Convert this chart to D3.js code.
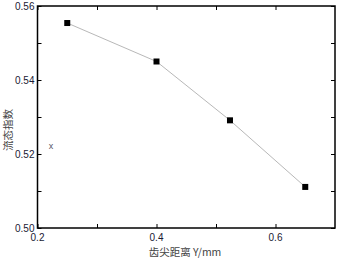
<!DOCTYPE html>
<html>
<head>
<meta charset="utf-8">
<script src="https://cdn.jsdelivr.net/npm/d3@7"></script>
<style>
  body { margin: 0; background: #fff; }
  svg { display: block; }
</style>
</head>
<body>
<script>
// data
var xValues = [0.25, 0.4, 0.5235, 0.65];
var yValues = [0.5554, 0.545, 0.5291, 0.5111];
var xTicks = [0.2, 0.4, 0.6];
var xMinor = [0.3, 0.5];
var yTicks = [0.50, 0.52, 0.54, 0.56];
var yMinor = [0.51, 0.53, 0.55];

var WIDTH = 343, HEIGHT = 259;
var margin = {left: 37.5, top: 6, right: 8, bottom: 31};

var svg = d3.select("body").append("svg")
    .attr("width", WIDTH).attr("height", HEIGHT);

var x = d3.scaleLinear().domain([0.2, 0.7]).range([margin.left, WIDTH - margin.right]);
var y = d3.scaleLinear().domain([0.50, 0.56]).range([HEIGHT - margin.bottom, margin.top]);

var font = "Arial, 'Liberation Sans', sans-serif";

// ticks on all four sides, pointing inward
function ticks(axis, vals, len) {
    return axis.tickValues(vals).tickSizeInner(-len).tickSizeOuter(0).tickFormat("");
}
var bottomY = HEIGHT - margin.bottom, rightX = WIDTH - margin.right;

svg.append("g").attr("transform", "translate(0," + bottomY + ")")
    .call(ticks(d3.axisBottom(x), xTicks.concat(xMinor), 4));
svg.append("g").attr("transform", "translate(0," + margin.top + ")")
    .call(ticks(d3.axisTop(x), xTicks.concat(xMinor), 4));
svg.append("g").attr("transform", "translate(" + margin.left + ",0)")
    .call(ticks(d3.axisLeft(y), yTicks.concat(yMinor), 4));
svg.append("g").attr("transform", "translate(" + rightX + ",0)")
    .call(ticks(d3.axisRight(y), yTicks.concat(yMinor), 4));
svg.selectAll(".domain").remove();
svg.selectAll(".tick line").attr("stroke", "#000").attr("stroke-width", 1);

// frame
svg.append("rect")
    .attr("x", margin.left).attr("y", margin.top)
    .attr("width", rightX - margin.left).attr("height", bottomY - margin.top)
    .attr("fill", "none").attr("stroke", "#000").attr("stroke-width", 1.5);

// tick labels
svg.selectAll(".xlab").data(xTicks).enter().append("text")
    .attr("x", function(d) { return x(d); })
    .attr("y", bottomY + 12.5)
    .attr("text-anchor", "middle")
    .attr("font-family", font).attr("font-size", 10).attr("fill", "#1a1a33")
    .text(function(d) { return d3.format(".1f")(d); });

svg.selectAll(".ylab").data(yTicks).enter().append("text")
    .attr("x", margin.left - 3)
    .attr("y", function(d) { return y(d) + 3.5; })
    .attr("text-anchor", "end")
    .attr("font-family", font).attr("font-size", 10).attr("fill", "#1a1a33")
    .text(function(d) { return d3.format(".2f")(d); });

// axis titles
svg.append("text")
    .attr("x", 185).attr("y", 256)
    .attr("text-anchor", "middle")
    .attr("font-family", "'Noto Sans CJK SC', sans-serif").attr("font-size", 10.5).attr("fill", "#444")
    .text("齿尖距离 Y/mm");

svg.append("text")
    .attr("transform", "translate(11.5,130) rotate(-90)")
    .attr("text-anchor", "middle")
    .attr("font-family", "'Noto Sans CJK SC', sans-serif").attr("font-size", 10.5).attr("fill", "#444")
    .text("流态指数");

svg.append("text")
    .attr("x", 51).attr("y", 149)
    .attr("text-anchor", "middle")
    .attr("font-family", font).attr("font-size", 9).attr("fill", "#556")
    .text("x");

// line and markers
var pts = xValues.map(function(v, i) { return [v, yValues[i]]; });
svg.append("path")
    .datum(pts)
    .attr("d", d3.line().x(function(d) { return x(d[0]); }).y(function(d) { return y(d[1]); }))
    .attr("fill", "none").attr("stroke", "#b8b8b8").attr("stroke-width", 1);

svg.selectAll(".pt").data(pts).enter().append("rect")
    .attr("x", function(d) { return x(d[0]) - 3; })
    .attr("y", function(d) { return y(d[1]) - 3; })
    .attr("width", 6).attr("height", 6)
    .attr("fill", "#000");
</script>
</body>
</html>
